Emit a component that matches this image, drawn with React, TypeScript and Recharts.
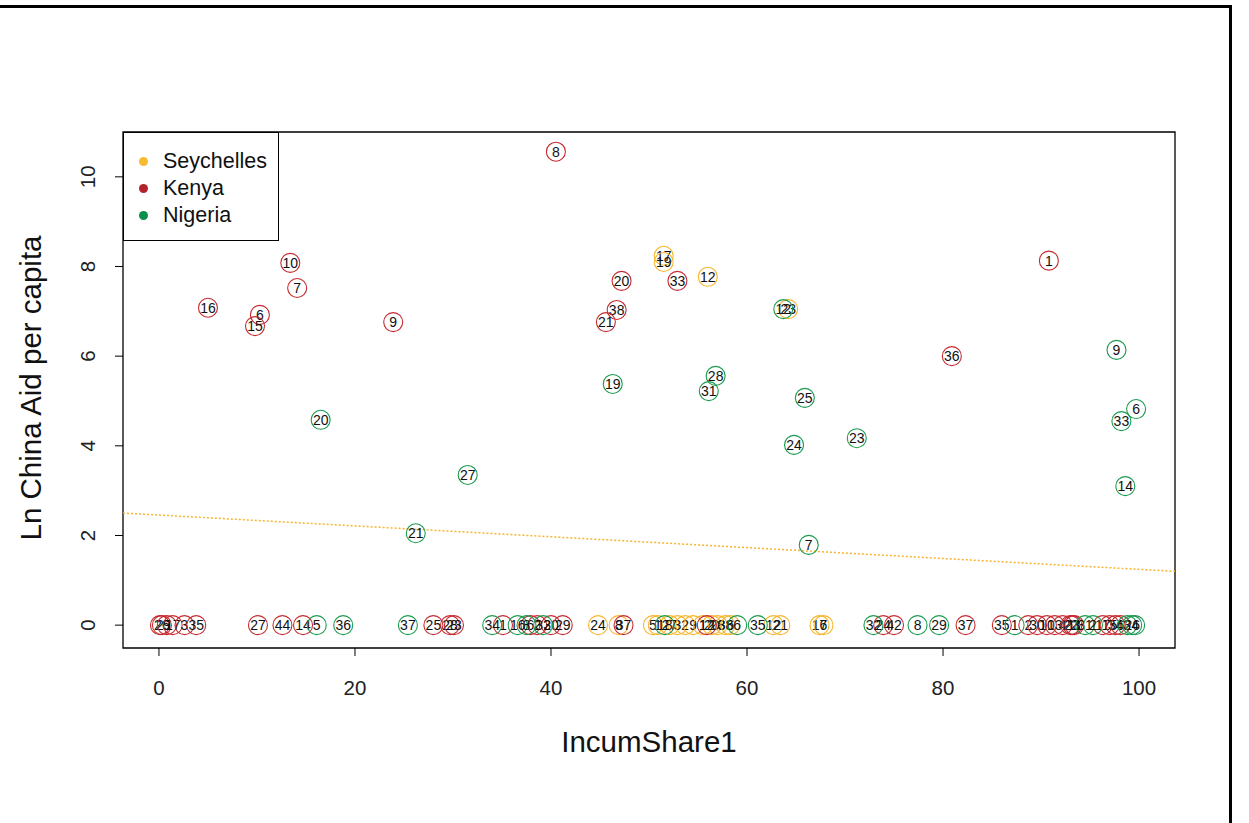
import React from 'react';
import { ScatterChart, Scatter, XAxis, YAxis, ReferenceArea, ReferenceLine, Label } from 'recharts';

const W = 1249;
const H = 823;
const FONT = '"Liberation Sans", Arial, sans-serif';

const countries = ['Seychelles', 'Kenya', 'Nigeria'];
const legendColors = ['#F8BA2E', '#B5232A', '#0A8F4A'];
const circleColors = ['#F7B52C', '#C62A30', '#1A9A50'];

const xTicks = [0, 20, 40, 60, 80, 100];
const yTicks = [0, 2, 4, 6, 8, 10];
const xDomain = [-3.67, 103.67];
const yDomain = [-0.51, 11.0];

const fitX = [-3.67, 103.67];
const fitY = [2.5, 1.2];

const seychellesX = [51.5, 51.5, 56.0, 64.2, 44.8, 46.9, 50.4, 50.9, 52.1, 52.9, 53.7, 54.5, 55.5, 56.4, 57.0, 57.8, 58.3, 62.7, 63.4, 67.4, 67.8];
const seychellesY = [8.24, 8.1, 7.77, 7.05, 0, 0, 0, 0, 0, 0, 0, 0, 0, 0, 0, 0, 0, 0, 0, 0, 0];
const seychellesLabel = ['17', '19', '12', '23', '24', '8', '5', '1', '27', '3', '2', '9', '1', '20', '28', '38', '6', '12', '21', '16', '7'];

const kenyaX = [40.5, 13.4, 14.1, 5.0, 10.3, 9.8, 23.9, 47.2, 52.9, 46.7, 45.6, 90.8, 80.9,
  0.1, 0.3, 0.8, 1.4, 2.6, 3.8, 10.1, 12.6, 14.7, 28.0, 29.7, 30.1, 35.1, 37.9, 38.6, 40.0, 41.2, 47.4, 55.9,
  73.9, 75.0, 82.3, 86.0, 88.7, 89.6, 90.6, 91.4, 92.2, 93.0, 93.2, 93.4, 96.3, 97.0, 97.6, 98.1];
const kenyaY = [10.56, 8.08, 7.52, 7.08, 6.92, 6.67, 6.76, 7.68, 7.68, 7.03, 6.76, 8.13, 6.0,
  0, 0, 0, 0, 0, 0, 0, 0, 0, 0, 0, 0, 0, 0, 0, 0, 0, 0, 0,
  0, 0, 0, 0, 0, 0, 0, 0, 0, 0, 0, 0, 0, 0, 0, 0];
const kenyaLabel = ['8', '10', '7', '16', '6', '15', '9', '20', '33', '38', '21', '1', '36',
  '2', '26', '9', '17', '3', '35', '27', '44', '14', '25', '28', '23', '1', '6', '2', '30', '29', '37', '12',
  '24', '42', '37', '35', '2', '30', '10', '13', '4', '22', '23', '11', '17', '15', '34', '6'];

const nigeriaX = [63.7, 16.5, 31.5, 26.2, 46.3, 56.8, 56.1, 65.9, 64.8, 71.2, 66.3, 97.7, 99.7, 98.2, 98.6,
  16.1, 18.8, 25.4, 34.0, 36.6, 37.5, 39.2, 51.6, 59.0, 61.1, 72.9, 77.4, 79.6, 87.3, 94.5, 95.3, 98.8, 99.3, 99.6];
const nigeriaY = [7.05, 4.58, 3.35, 2.05, 5.38, 5.56, 5.22, 5.07, 4.02, 4.17, 1.79, 6.14, 4.82, 4.55, 3.1,
  0, 0, 0, 0, 0, 0, 0, 0, 0, 0, 0, 0, 0, 0, 0, 0, 0, 0, 0];
const nigeriaLabel = ['12', '20', '27', '21', '19', '28', '31', '25', '24', '23', '7', '9', '6', '33', '14',
  '5', '36', '37', '34', '16', '8', '32', '18', '6', '35', '32', '8', '29', '1', '31', '2', '3', '26', '4'];

const build = (xs: number[], ys: number[], ls: string[]) => xs.map((x, i) => ({ x, y: ys[i], label: ls[i] }));
const seriesData = [
  build(seychellesX, seychellesY, seychellesLabel),
  build(kenyaX, kenyaY, kenyaLabel),
  build(nigeriaX, nigeriaY, nigeriaLabel),
];
const fitData = fitX.map((x, i) => ({ x, y: fitY[i] }));

const makeShape = (color: string) => (props: any) => {
  const { cx, cy, payload } = props;
  if (cx == null || cy == null) return <g />;
  return (
    <g>
      <circle cx={cx} cy={cy} r={9.5} fill="none" stroke={color} strokeWidth={1.1} />
      <text x={cx} y={cy + 5} textAnchor="middle" fontSize={14} fontFamily={FONT} fill="#111">
        {payload.label}
      </text>
    </g>
  );
};

const XTick = (props: any) => {
  const { x, y, payload } = props;
  return (
    <text x={x} y={y + 37.4} textAnchor="middle" fontSize={20.5} fontFamily={FONT} fill="#222">
      {payload.value}
    </text>
  );
};

const YTick = (props: any) => {
  const { x, y, payload } = props;
  const bx = x - 17.6;
  return (
    <text x={bx} y={y} transform={`rotate(-90, ${bx}, ${y})`} textAnchor="middle" fontSize={20.5} fontFamily={FONT} fill="#222">
      {payload.value}
    </text>
  );
};

const LegendBox = () => (
  <div style={{ position: 'absolute', left: 123, top: 132, width: 156, height: 109, boxSizing: 'border-box', border: '1.3px solid #000', background: '#fff', paddingTop: 15, fontFamily: FONT }}>
    {countries.map((c, i) => (
      <div key={c} style={{ display: 'flex', alignItems: 'center', height: 27, lineHeight: '27px' }}>
        <span style={{ display: 'inline-block', width: 9, height: 9, borderRadius: '50%', background: legendColors[i], marginLeft: 15, marginRight: 15 }} />
        <span style={{ fontSize: 21.5, color: '#111' }}>{c}</span>
      </div>
    ))}
  </div>
);

export default function App() {
  return (
    <div style={{ position: 'absolute', left: 0, top: 0, width: W, height: H, overflow: 'hidden', background: '#fff' }}>
      <ScatterChart width={W} height={H} margin={{ top: 132, right: 74, bottom: 115, left: 63 }}>
        <XAxis
          type="number"
          dataKey="x"
          domain={xDomain}
          allowDataOverflow
          ticks={xTicks}
          height={60}
          tickSize={8}
          axisLine={false}
          tickLine={{ stroke: '#000' }}
          tick={<XTick />}
          interval={0}
        >
          <Label
            content={(p: any) => {
              const vb = p.viewBox || { x: 123, y: 648, width: 1052 };
              return (
                <text x={vb.x + vb.width / 2} y={vb.y + 103.5} textAnchor="middle" fontSize={29.5} fontFamily={FONT} fill="#111">
                  IncumShare1
                </text>
              );
            }}
          />
        </XAxis>
        <YAxis
          type="number"
          dataKey="y"
          domain={yDomain}
          allowDataOverflow
          ticks={yTicks}
          width={60}
          tickSize={8}
          axisLine={false}
          tickLine={{ stroke: '#000' }}
          tick={<YTick />}
          interval={0}
        >
          <Label
            content={(p: any) => {
              const vb = p.viewBox || { x: 63, y: 132, height: 516 };
              const tx = vb.x - 22.5;
              const ty = vb.y + vb.height / 2 - 2;
              return (
                <text x={tx} y={ty} transform={`rotate(-90, ${tx}, ${ty})`} textAnchor="middle" fontSize={29.5} fontFamily={FONT} fill="#111">
                  Ln China Aid per capita
                </text>
              );
            }}
          />
        </YAxis>
        <ReferenceArea x1={xDomain[0]} x2={xDomain[1]} y1={yDomain[0]} y2={yDomain[1]} fill="none" fillOpacity={0} stroke="#000" strokeWidth={1.3} ifOverflow="visible" />
        <ReferenceLine segment={fitData} stroke="#F5B52E" strokeWidth={1.5} strokeDasharray="2 2" ifOverflow="visible" />
        {countries.map((c, i) => (
          <Scatter key={c} name={c} data={seriesData[i]} shape={makeShape(circleColors[i])} isAnimationActive={false} />
        ))}
      </ScatterChart>
      <LegendBox />
      <div style={{ position: 'absolute', left: 0, top: 5, width: 1229, height: H + 20, borderTop: '3px solid #000', borderRight: '3px solid #000', pointerEvents: 'none' }} />
    </div>
  );
}
